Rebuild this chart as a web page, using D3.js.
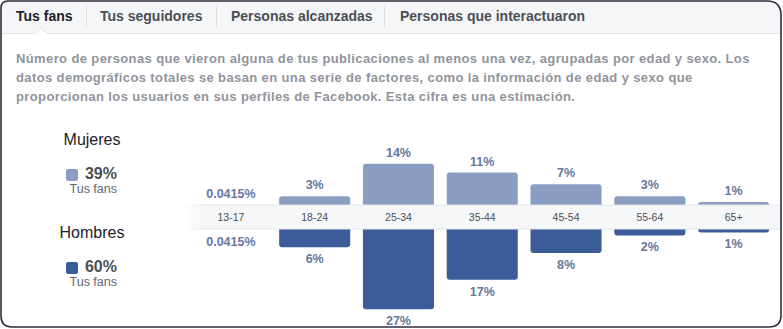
<!DOCTYPE html>
<html><head><meta charset="utf-8">
<script src="https://cdn.jsdelivr.net/npm/d3@7"></script>
<style>
html,body{margin:0;padding:0;background:#fff;}
svg{display:block;}
</style></head>
<body>
<svg id="c" width="783" height="329"></svg>
<script>
const tabs = ["Tus fans", "Tus seguidores", "Personas alcanzadas", "Personas que interactuaron"];
const descLines = [
  "Número de personas que vieron alguna de tus publicaciones al menos una vez, agrupadas por edad y sexo. Los",
  "datos demográficos totales se basan en una serie de factores, como la información de edad y sexo que",
  "proporcionan los usuarios en sus perfiles de Facebook. Esta cifra es una estimación."
];
const ageGroups = ["13-17", "18-24", "25-34", "35-44", "45-54", "55-64", "65+"];
const women = [0.0415, 3, 14, 11, 7, 3, 1];
const men = [0.0415, 6, 27, 17, 8, 2, 1];
const legendTotals = [{name: "Mujeres", pct: "39%"}, {name: "Hombres", pct: "60%"}];

const colWomen = "#8b9dc3", colMen = "#3b5b99", labelCol = "#65779f";
const svg = d3.select("#c");
const font = "'Liberation Sans', Arial, sans-serif";

const defs = svg.append("defs");
const clip = defs.append("clipPath").attr("id", "frameClip");
const framePath = "M1,8 Q1,1 8,1 L767,1 Q781,1 781,15 L781,315 Q781,327 769,327 L12,327 Q1,327 1,316 Z";
clip.append("path").attr("d", framePath);

const g0 = svg.append("g").attr("clip-path", "url(#frameClip)");
g0.append("rect").attr("width", 783).attr("height", 329).attr("fill", "#fff");
// tab bar
g0.append("rect").attr("x", 0).attr("y", 0).attr("width", 783).attr("height", 33).attr("fill", "#f5f6f7");
g0.append("line").attr("x1", 0).attr("x2", 783).attr("y1", 33.5).attr("y2", 33.5).attr("stroke", "#e2e4e8");
// caret under active tab
g0.append("path").attr("d", "M35,34 L41,28 L47,34 Z").attr("fill", "#fff");
g0.append("path").attr("d", "M35,33.5 L41,28 L47,33.5").attr("fill", "none").attr("stroke", "#e2e4e8");

const tabX = [16, 100, 231, 400];
const sepX = [86, 216, 384];
tabs.forEach((t, i) => {
  g0.append("text").attr("x", tabX[i]).attr("y", 21).text(t)
    .attr("font-family", font).attr("font-weight", "bold").attr("font-size", 14)
    .attr("fill", i === 0 ? "#1d2129" : "#4b4f56");
});
sepX.forEach(x => g0.append("line").attr("x1", x + 0.5).attr("x2", x + 0.5).attr("y1", 6).attr("y2", 27).attr("stroke", "#dddfe2"));

descLines.forEach((l, i) => {
  g0.append("text").attr("x", 16).attr("y", 63 + i * 19).text(l)
    .attr("font-family", font).attr("font-weight", "bold").attr("font-size", 13)
    .attr("letter-spacing", 0.38)
    .attr("fill", "#90949c");
});

// legend
const legY = [139, 232];
legendTotals.forEach((d, i) => {
  const y = legY[i];
  g0.append("text").attr("x", 92).attr("y", y + 6).attr("text-anchor", "middle").text(d.name)
    .attr("font-family", font).attr("font-size", 16).attr("fill", "#1d2129");
  g0.append("rect").attr("x", 66).attr("y", y + 30).attr("width", 12).attr("height", 12).attr("rx", 2)
    .attr("fill", i === 0 ? colWomen : colMen);
  g0.append("text").attr("x", 117).attr("y", y + 40).attr("text-anchor", "end").text(d.pct)
    .attr("font-family", font).attr("font-weight", "bold").attr("font-size", 16).attr("fill", "#4b4f56");
  g0.append("text").attr("x", 117).attr("y", y + 54).attr("text-anchor", "end").text("Tus fans")
    .attr("font-family", font).attr("font-size", 12.5).attr("fill", "#606770");
});

// chart
const x = d3.scaleBand().domain(ageGroups).range([189, 775.5]).paddingInner(0.152).paddingOuter(0.076);
const topBase = 206, botBase = 228.5;
const hScale = d3.scaleLinear().domain([0, 27]).range([0, 79.7]);

const fmt = v => v < 1 ? v + "%" : Math.round(v) + "%";

// band gradient
const grad = defs.append("linearGradient").attr("id", "bandGrad").attr("x1", 0).attr("x2", 1);
grad.append("stop").attr("offset", "0").attr("stop-color", "#f4f5f7").attr("stop-opacity", 0);
grad.append("stop").attr("offset", "0.04").attr("stop-color", "#f6f7f9").attr("stop-opacity", 1);
grad.append("stop").attr("offset", "1").attr("stop-color", "#f6f7f9").attr("stop-opacity", 1);
const gradE = defs.append("linearGradient").attr("id", "bandEdge").attr("x1", 0).attr("x2", 1);
gradE.append("stop").attr("offset", "0").attr("stop-color", "#e3e5e9").attr("stop-opacity", 0);
gradE.append("stop").attr("offset", "0.04").attr("stop-color", "#e3e5e9").attr("stop-opacity", 1);
gradE.append("stop").attr("offset", "1").attr("stop-color", "#e3e5e9").attr("stop-opacity", 1);

function roundedTop(x0, w, yTop, yBase, r) {
  r = Math.min(r, (yBase - yTop));
  return `M${x0},${yBase} L${x0},${yTop + r} Q${x0},${yTop} ${x0 + r},${yTop} L${x0 + w - r},${yTop} Q${x0 + w},${yTop} ${x0 + w},${yTop + r} L${x0 + w},${yBase} Z`;
}
function roundedBot(x0, w, yBase, yBot, r) {
  r = Math.min(r, (yBot - yBase));
  return `M${x0},${yBase} L${x0},${yBot - r} Q${x0},${yBot} ${x0 + r},${yBot} L${x0 + w - r},${yBot} Q${x0 + w},${yBot} ${x0 + w},${yBot - r} L${x0 + w},${yBase} Z`;
}

const chart = g0.append("g");
// women bars
chart.selectAll("path.w").data(ageGroups).enter().append("path").attr("class", "w")
  .attr("d", (a, i) => women[i] < 0.5 ? "" : roundedTop(x(a), x.bandwidth(), topBase - hScale(women[i]) - 1, topBase + 4, 3))
  .attr("fill", colWomen);
chart.selectAll("path.m").data(ageGroups).enter().append("path").attr("class", "m")
  .attr("d", (a, i) => men[i] < 0.5 ? "" : roundedBot(x(a), x.bandwidth(), botBase - 4, botBase + hScale(men[i]) + 1, 3))
  .attr("fill", colMen);

// band
chart.append("rect").attr("x", 183).attr("y", 205).attr("width", 597).attr("height", 24).attr("fill", "url(#bandGrad)");
chart.append("rect").attr("x", 183).attr("y", 204.5).attr("width", 597).attr("height", 1).attr("fill", "url(#bandEdge)");
chart.append("rect").attr("x", 183).attr("y", 228.5).attr("width", 597).attr("height", 1).attr("fill", "url(#bandEdge)");

const axis = d3.axisBottom(x).tickSize(0).tickPadding(0);
const ag = chart.append("g").attr("transform", "translate(0,214)").call(axis);
ag.select(".domain").remove();
ag.selectAll("text").attr("font-family", font).attr("font-size", 10.5).attr("fill", "#4b4f56").attr("dy", "0.71em");

// value labels
chart.selectAll("text.wl").data(ageGroups).enter().append("text").attr("class", "wl")
  .attr("x", a => x(a) + x.bandwidth() / 2)
  .attr("y", (a, i) => topBase - hScale(women[i]) - 8)
  .attr("text-anchor", "middle").text((a, i) => fmt(women[i]))
  .attr("font-family", font).attr("font-weight", "bold").attr("font-size", 12.5).attr("fill", labelCol);
chart.selectAll("text.ml").data(ageGroups).enter().append("text").attr("class", "ml")
  .attr("x", a => x(a) + x.bandwidth() / 2)
  .attr("y", (a, i) => botBase + hScale(men[i]) + 17)
  .attr("text-anchor", "middle").text((a, i) => fmt(men[i]))
  .attr("font-family", font).attr("font-weight", "bold").attr("font-size", 12.5).attr("fill", labelCol);

// frame border
svg.append("path").attr("d", framePath).attr("fill", "none").attr("stroke", "#2e2f3d").attr("stroke-width", 1.6);
</script>
</body></html>
